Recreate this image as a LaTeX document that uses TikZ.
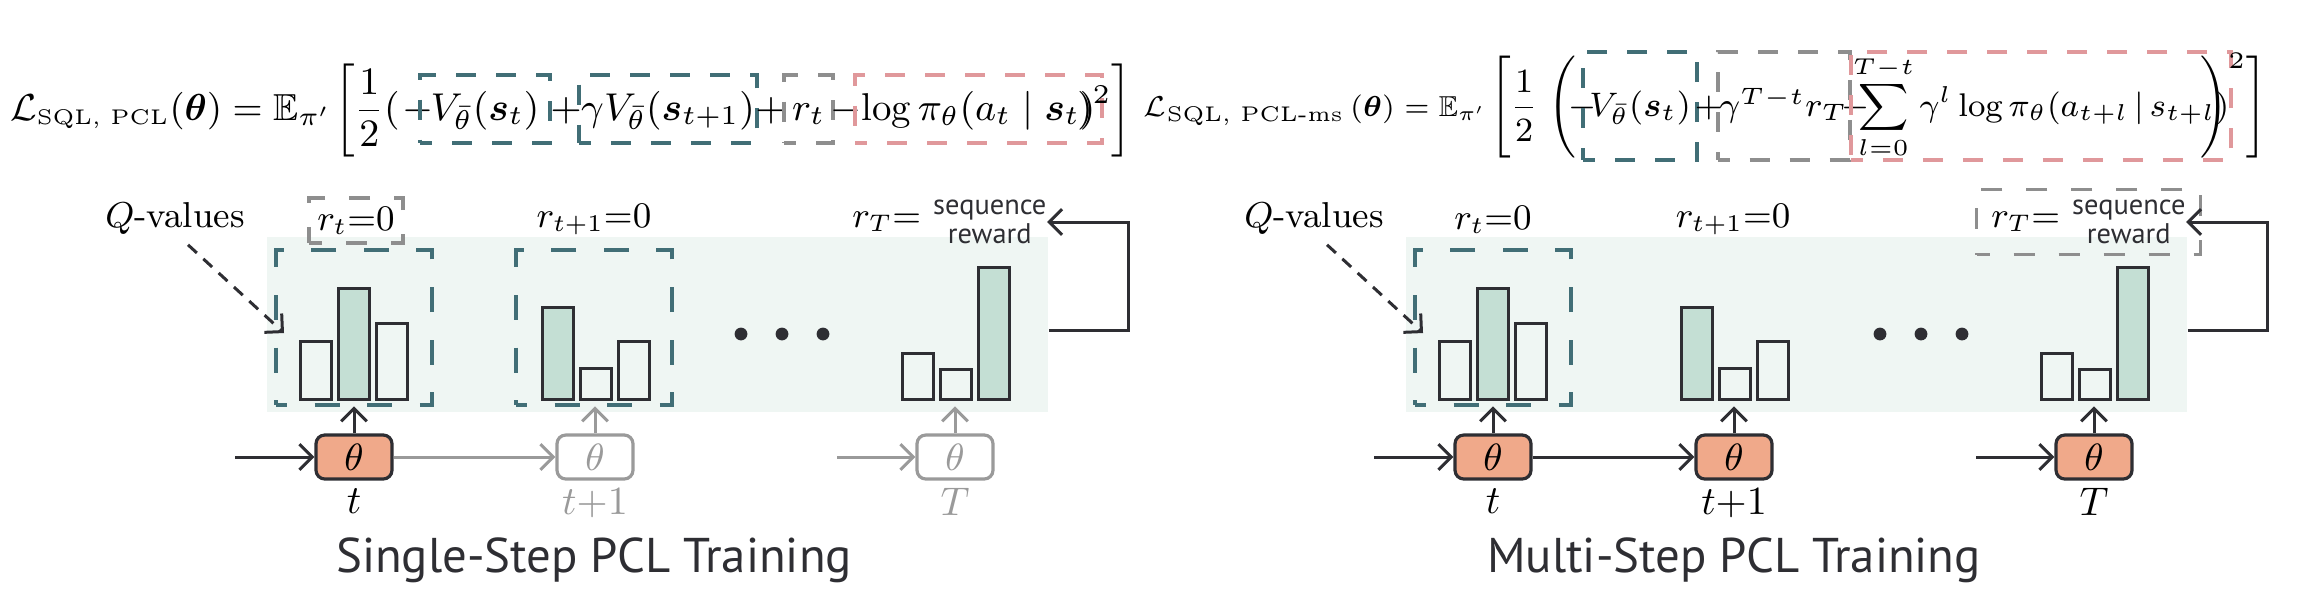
\RequirePackage{fix-cm}
\documentclass[tikz,border=0pt]{standalone}
\usepackage{amsmath,amssymb}
\usepackage{fontspec}
\newfontfamily\ptsans{PT Sans}
\usetikzlibrary{positioning, arrows.meta, calc, fit}
\definecolor{ink}{HTML}{2E2E33}
\definecolor{slate}{HTML}{416E76}
\definecolor{ash}{HTML}{8E8E8E}
\definecolor{rose}{HTML}{E0989B}
\definecolor{mint}{HTML}{EFF6F3}
\definecolor{sage}{HTML}{C4DFD4}
\definecolor{salmon}{HTML}{F0A98A}
\definecolor{fade}{HTML}{9A9A9A}
\newcommand{\lossfont}{\fontsize{9.4}{11.3}\selectfont}
\newcommand{\eqfont}{\fontsize{9.7}{11.6}\selectfont}
\newcommand{\msfont}{\fontsize{7.2}{8.6}\selectfont}
\newcommand{\eqmsfont}{\fontsize{8.5}{10.2}\selectfont}
\newcommand{\sumfont}{\fontsize{8.2}{10}\selectfont}
\newcommand{\labfont}{\fontsize{9}{11}\selectfont}
\newcommand{\seqfont}{\ptsans\fontsize{7.1}{7.25}\selectfont}
\newcommand{\stampfont}{\fontsize{10}{12}\selectfont}
\newcommand{\thfont}{\fontsize{9.5}{11}\selectfont}
\newcommand{\headfont}{\ptsans\fontsize{12.2}{14}\selectfont}
\newcommand{\subtxt}[1]{\text{\fontsize{5.3}{6}\selectfont #1}}

\begin{document}
\begin{tikzpicture}[x=0.25pt, y=-0.25pt,
  eq/.style={inner sep=0pt, outer sep=0pt, font=\eqfont},
  eqms/.style={inner sep=0pt, outer sep=0pt, font=\eqmsfont},
  tbox/.style={draw=#1, line width=1pt, dash pattern=on 5pt off 5pt, dash phase=2pt,
               inner xsep=0.5pt, inner ysep=0pt, outer sep=0pt, font=\eqfont,
               text height=11.2pt, text depth=5.7pt, anchor=base},
  tboxhi/.style={tbox=#1, font=\eqmsfont, text height=16pt, text depth=11pt},
  qbox/.style={draw=slate, line width=0.85pt, dash pattern=on 6.25pt off 6.9pt,
               dash phase=3.5pt, minimum width=39pt, minimum height=38.75pt,
               inner sep=0pt, outer sep=0pt},
  rbox/.style={draw=ash, line width=0.85pt, dash pattern=on 5.25pt off 6pt, dash phase=2pt},
  lab/.style={inner sep=0pt, font=\labfont},
  seq/.style={inner sep=0pt, align=center, font=\seqfont, text=ink},
  bar/.style={draw=ink, line width=0.75pt},
  theta/.style={draw=ink, fill=salmon, line width=0.8pt, rounded corners=2.2pt,
                minimum width=19pt, minimum height=11pt, inner sep=0pt, font=\thfont},
  idle/.style={theta, draw=fade, fill=white, text=fade},
  arr/.style={draw=ink, line width=0.75pt, -{Straight Barb[length=3.2pt, width=6.4pt]}},
  farr/.style={arr, draw=fade},
  qarr/.style={arr, dash pattern=on 3pt off 2.2pt},
  stamp/.style={inner sep=0pt, font=\stampfont},
  heading/.style={inner sep=0pt, font=\headfont, text=ink}]
  \useasboundingbox (0,0) rectangle (2310,614);

  % single-step objective
  \node[eq, font=\lossfont, anchor=base east] (sloss) at (331,120)
    {$\mathcal{L}_{\subtxt{SQL, PCL}}(\boldsymbol{\theta}) = \mathbb{E}_{\pi'}$};
  \node[eq, anchor=base west] (sopen) at (334,120) {$\biggl[\dfrac{1}{2}($};
  \node[eq, anchor=base] (sneg) at (418,120) {$-$};
  \node[tbox=slate, minimum width=32.5pt] (sv) at (485,120) {$V_{\bar{\theta}}(\boldsymbol{s}_t)$};
  \node[eq, anchor=base] (splus) at (566,120) {$+$};
  \node[tbox=slate, minimum width=41pt] (sgv) at (668,120) {$\gamma V_{\bar{\theta}}(\boldsymbol{s}_{t+1})$};
  \node[eq, anchor=base] (splus2) at (771,120) {$+$};
  \node[tbox=ash, minimum width=12.25pt] (srw) at (808.5,120) {$r_t$};
  \node[eq, anchor=base] (sminus) at (846,120) {$-$};
  \node[tbox=rose, minimum width=61.75pt] (slog) at (978.5,120) {$\log\pi_{\theta}(a_t \mid \boldsymbol{s}_t)$};
  \node[eq, anchor=base east] (send) at (1132,120) {$)^{2}\biggr]$};

  % multi-step objective
  \node[eqms, font=\msfont, anchor=base east] (mloss) at (1486,116)
    {$\mathcal{L}_{\subtxt{SQL, PCL-ms}}\,(\boldsymbol{\theta}) = \mathbb{E}_{\pi'}$};
  \node[eqms, anchor=base west] (mopen) at (1490,116) {$\Biggl[\dfrac{1}{2}\;\Biggl($};
  \node[eqms, anchor=base] (mneg) at (1583,116) {$-$};
  \node[tboxhi=slate, minimum width=28.5pt] (mv) at (1640,116) {$V_{\bar{\theta}}(\boldsymbol{s}_t)$};
  \node[eqms, anchor=base] (mplus) at (1709,116) {$+$};
  \node[tboxhi=ash, minimum width=30.75pt] (mrw) at (1783.5,116) {$\gamma^{T-t} r_T$};
  \node[eqms, anchor=base] (mminus) at (1856,116) {$-$};
  \node[tboxhi=rose, font=\sumfont, minimum width=91.5pt] (mlog) at (2041,116)
    {$\displaystyle\sum_{l=0}^{T-t}\gamma^{l}\log\pi_{\theta}(a_{t+l}\,|\,s_{t+l})$};
  \node[eqms, anchor=base east] (mend) at (2267,116) {$\Biggr)^{2}\Biggr]$};

  % single-step panel
  \node[fill=mint, minimum width=195.25pt, minimum height=43.75pt, inner sep=0pt] (sbg) at (657.5,324.5) {};
  \node[qbox] (sqa) at (354,327.5) {};
  \node[qbox] (sqb) at (594,327.5) {};
  \foreach \bx/\by/\bc in {300/341/none, 338/288/sage, 376/323/none,
                           542/307/sage, 580/368/none, 618/341/none,
                           902/353/none, 940/369/none, 978/267/sage}
    \draw[bar, fill=\bc] (\bx,399) rectangle (\bx+31,\by);
  \foreach \dx in {741,782,823} \fill[ink] (\dx,334) circle[radius=1.6pt];
  \node[lab] (sqv) at (175,218) {$Q$-values};
  \node[lab, rbox, minimum width=23.5pt, minimum height=11.25pt] (srt) at (356,220.5) {$r_t{=}0$};
  \node[lab] (srt1) at (594,220) {$r_{t+1}{=}0$};
  \node[lab, anchor=east] (srT) at (922,222) {$r_T{=}$};
  \node[seq, right=2.6pt of srT] (srew) {sequence\\reward};
  \draw[qarr] ($(sqv.south)+(13,10)$) -- ($(sqa.west)+(8,5.5)$);
  \node[theta] (sth1) at (354,457) {$\theta$};
  \node[idle] (sth2) at (595,457) {$\theta$};
  \node[idle] (sth3) at (955,457) {$\theta$};
  \coordinate (sin) at (235,457);
  \coordinate (sgo) at (837,457);
  \draw[arr] (sin) -- (sth1);
  \draw[farr] (sth1) -- (sth2);
  \draw[farr] (sgo) -- (sth3);
  \draw[arr] (sth1.north) -- ++(0,-27);
  \draw[farr] (sth2.north) -- ++(0,-27);
  \draw[farr] (sth3.north) -- ++(0,-27);
  \node[stamp, below=1.8pt of sth1] (st1) {$t$};
  \node[stamp, below=1.8pt of sth2, text=fade] (st2) {$t{+}1$};
  \node[stamp, below=1.8pt of sth3, text=fade] (st3) {$T$};
  \coordinate (sloop) at (1128,330);
  \draw[arr] (sbg.east |- sloop) -- (sloop) |- (srew.east);
  \node[heading] (shead) at (594,560) {Single-Step PCL Training};

  % multi-step panel
  \begin{scope}[shift={(1139,0)}]
    \node[fill=mint, minimum width=195.25pt, minimum height=43.75pt, inner sep=0pt] (mbg) at (657.5,324.5) {};
    \node[qbox] (mqa) at (354,327.5) {};
    \foreach \bx/\by/\bc in {300/341/none, 338/288/sage, 376/323/none,
                             542/307/sage, 580/368/none, 618/341/none,
                             902/353/none, 940/369/none, 978/267/sage}
      \draw[bar, fill=\bc] (\bx,399) rectangle (\bx+31,\by);
    \foreach \dx in {741,782,823} \fill[ink] (\dx,334) circle[radius=1.6pt];
    \node[lab] (mqv) at (175,218) {$Q$-values};
    \node[lab] (mrt) at (354,220) {$r_t{=}0$};
    \node[lab] (mrt1) at (594,220) {$r_{t+1}{=}0$};
    \node[lab, anchor=east] (mrT) at (922,222) {$r_T{=}$};
    \node[seq, right=2.6pt of mrT] (mrew) {sequence\\reward};
    \node[rbox, fit=(mrT)(mrew), inner xsep=3.5pt, inner ysep=2.5pt] (mrbox) {};
    \draw[qarr] ($(mqv.south)+(13,10)$) -- ($(mqa.west)+(8,5.5)$);
    \node[theta] (mth1) at (354,457) {$\theta$};
    \node[theta] (mth2) at (595,457) {$\theta$};
    \node[theta] (mth3) at (955,457) {$\theta$};
    \coordinate (min) at (235,457);
    \coordinate (mgo) at (837,457);
    \draw[arr] (min) -- (mth1);
    \draw[arr] (mth1) -- (mth2);
    \draw[arr] (mgo) -- (mth3);
    \draw[arr] (mth1.north) -- ++(0,-27);
    \draw[arr] (mth2.north) -- ++(0,-27);
    \draw[arr] (mth3.north) -- ++(0,-27);
    \node[stamp, below=1.8pt of mth1] (mt1) {$t$};
    \node[stamp, below=1.8pt of mth2] (mt2) {$t{+}1$};
    \node[stamp, below=1.8pt of mth3] (mt3) {$T$};
    \coordinate (mloop) at (1128,330);
    \draw[arr] (mbg.east |- mloop) -- (mloop) |- (mrew.east);
    \node[heading] (mhead) at (595,560) {Multi-Step PCL Training};
  \end{scope}
\end{tikzpicture}
\end{document}
